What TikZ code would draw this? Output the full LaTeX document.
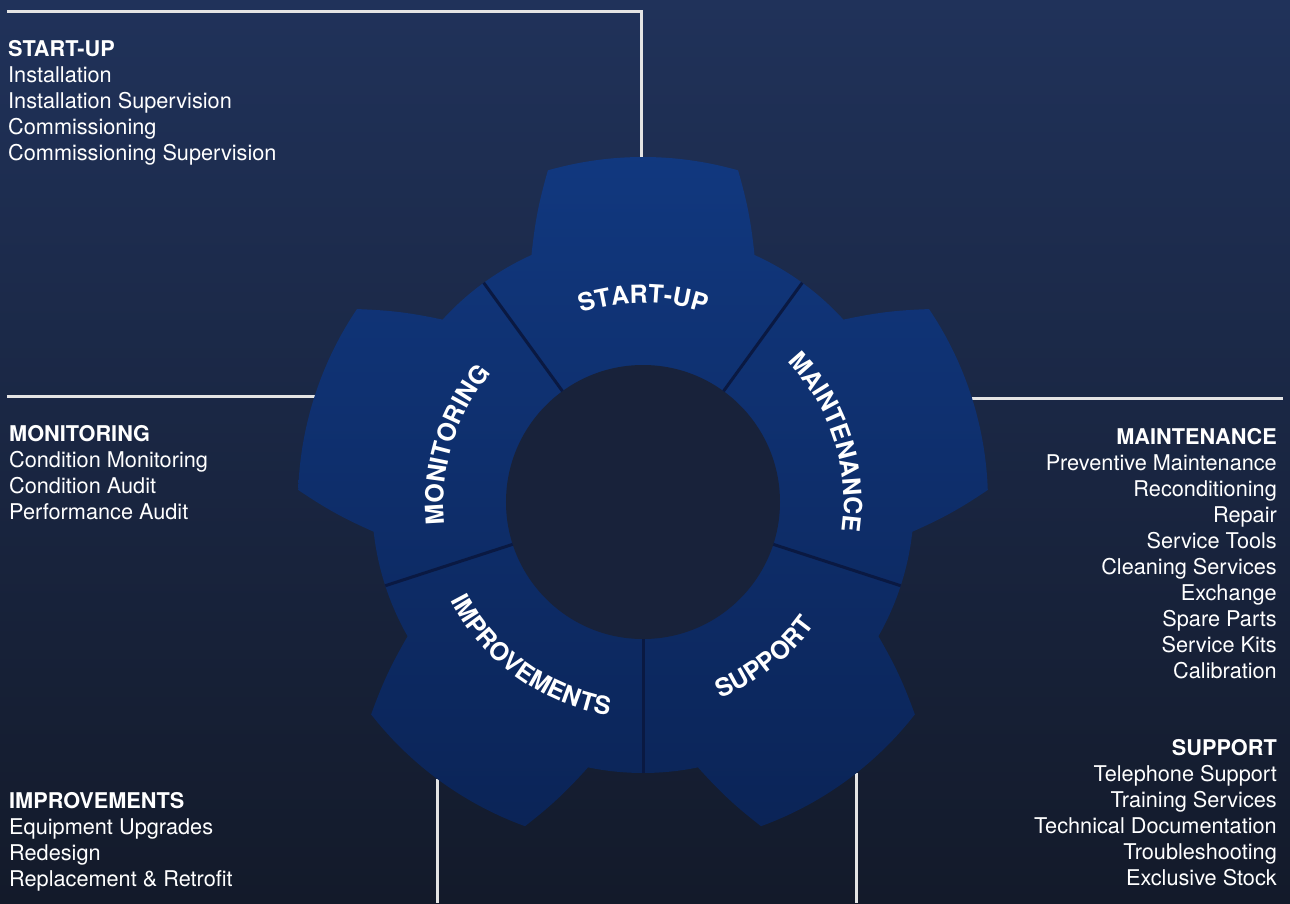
\documentclass[tikz,border=0pt]{standalone}
\usepackage{fontspec}
\setmainfont{TeX Gyre Heros}
\usetikzlibrary{decorations.text}

\definecolor{bgtop}{HTML}{20325A}
\definecolor{bgbot}{HTML}{131A2A}
\definecolor{geartop}{HTML}{11387F}
\definecolor{gearbot}{HTML}{0B2457}
\definecolor{hub}{HTML}{18223A}
\definecolor{divider}{HTML}{0A1942}
\definecolor{rule}{HTML}{E4E4E4}
\newcommand{\gearfont}{\bfseries\fontsize{25}{25}\selectfont}

\begin{document}
\begin{tikzpicture}[x=1pt,y=1pt,
  leftlist/.style={anchor=north west,align=left,inner sep=0,text=white,font=\fontsize{21.7}{26}\selectfont},
  rightlist/.style={anchor=north east,align=right,inner sep=0,text=white,font=\fontsize{21.7}{26}\selectfont},
  connector/.style={draw=rule,line width=3pt},
  gearlabel/.style={decorate,decoration={text along path,text align=center,text color=white,text={|\gearfont|#1}}}]
\useasboundingbox (-643,-401) rectangle (647,502);
\shade[top color=bgtop,bottom color=bgbot] (-643,-401) rectangle (647,502);

% lists
\node[leftlist] (startup) at (-635,462) {\textbf{START-UP}\\Installation\\Installation Supervision\\Commissioning\\Commissioning Supervision};
\node[leftlist] (monitoring) at (-634,77) {\textbf{MONITORING}\\Condition Monitoring\\Condition Audit\\Performance Audit};
\node[leftlist] (improvements) at (-634,-290) {\textbf{IMPROVEMENTS}\\Equipment Upgrades\\Redesign\\Replacement \& Retrofit};
\node[rightlist] (maintenance) at (634,74) {\textbf{MAINTENANCE}\\Preventive Maintenance\\Reconditioning\\Repair\\Service Tools\\Cleaning Services\\Exchange\\Spare Parts\\Service Kits\\Calibration};
\node[rightlist] (support) at (634,-237) {\textbf{SUPPORT}\\Telephone Support\\Training Services\\Technical Documentation\\Troubleshooting\\Exclusive Stock};

% connectors
\coordinate (startup-end) at (-636,490);
\coordinate (startup-tip) at (-2,345);
\coordinate (monitoring-end) at (-636,106);
\coordinate (monitoring-tip) at (-328,106);
\coordinate (maintenance-end) at (640,104);
\coordinate (maintenance-tip) at (329,104);
\coordinate (improvements-end) at (-205,-401);
\coordinate (improvements-tip) at (-205,-277);
\coordinate (support-end) at (213,-401);
\coordinate (support-tip) at (213,-271);
\draw[connector] (startup-end) -| (startup-tip);
\draw[connector] (monitoring-end) -- (monitoring-tip);
\draw[connector] (maintenance-tip) -- (maintenance-end);
\draw[connector] (improvements-tip) -- (improvements-end);
\draw[connector] (support-tip) -- (support-end);

% gear
\shade[top color=geartop,bottom color=gearbot] (114.3:271)
  \foreach \a in {90,18,-54,-126,-198} {
    to[bend left=5] (\a+16:345) arc[start angle=\a+16,end angle=\a-16,radius=345]
    to[bend left=5] (\a-24.3:271) arc[start angle=\a-24.3,end angle=\a-47.7,radius=271]
  } -- cycle;
\fill[hub] (0,0) circle[radius=137];
\foreach \a in {126,54,-18,-90,198}
  \draw[divider,line width=3pt] (\a:137) -- (\a:271);

% labels on the gear
\path[gearlabel=START-UP] (125:199) arc[start angle=125,end angle=55,radius=199];
\path[gearlabel=MAINTENANCE] (58:201) arc[start angle=58,end angle=-22,radius=201];
\path[gearlabel=MONITORING] (203:199) arc[start angle=203,end angle=123,radius=199];
\path[gearlabel=SUPPORT] (-92:211) arc[start angle=-92,end angle=-12,radius=211];
\path[gearlabel=IMPROVEMENTS] (-166:216) arc[start angle=-166,end angle=-86,radius=216];
\end{tikzpicture}
\end{document}
